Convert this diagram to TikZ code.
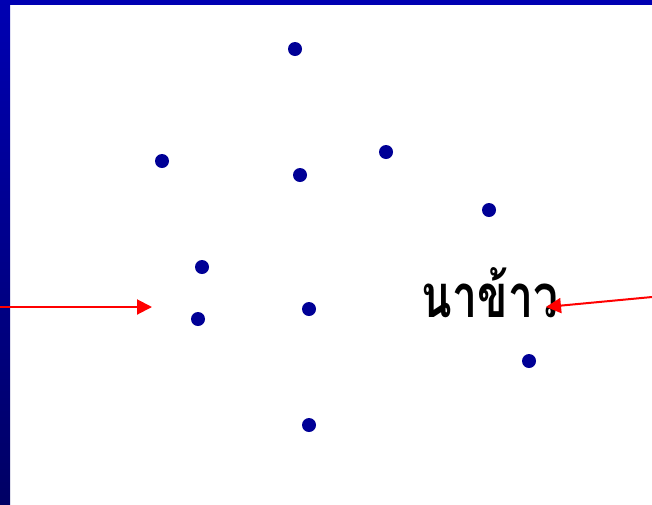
\documentclass[tikz,border=0pt]{standalone}
\usepackage{fontspec}
\newfontfamily\thaifont[Script=Thai]{Loma}
\usetikzlibrary{arrows.meta}
\definecolor{dotblue}{RGB}{0,0,150}
\definecolor{bartop}{RGB}{0,0,178}
\definecolor{barbot}{RGB}{0,0,100}
\tikzset{
  dot/.style={circle,fill=dotblue,inner sep=0pt,minimum size=14pt},
  redarrow/.style={draw=red,line width=2pt,-{Triangle[length=15pt,width=15pt]}},
  label/.style={font=\thaifont\bfseries\fontsize{46}{52}\selectfont,inner sep=0pt}
}
\begin{document}
\begin{tikzpicture}[x=1pt,y=-1pt]
\useasboundingbox (0,0) rectangle (652,504);
\fill[white] (0,0) rectangle (652,504);
\fill[bartop] (0,0) rectangle (652,5);
\shade[top color=bartop,bottom color=barbot] (0,0) rectangle (10,504);
\node[dot] (d1) at (295,49) {};
\node[dot] (d2) at (162,161) {};
\node[dot] (d3) at (386,152) {};
\node[dot] (d4) at (300,175) {};
\node[dot] (d5) at (489,210) {};
\node[dot] (d6) at (202,267) {};
\node[dot] (d7) at (198,319) {};
\node[dot] (d8) at (309,309) {};
\node[dot] (d9) at (529,361) {};
\node[dot] (d10) at (309,425) {};
\node[label] (t) at (490,293) {\scalebox{0.97}[1.3]{นาข้าว}};
\coordinate (ls) at (0,307);
\coordinate (le) at (152,307);
\coordinate (rs) at (652,297);
\coordinate (re) at (546,307);
\draw[redarrow] (ls) -- (le);
\draw[redarrow] (rs) -- (re);
\end{tikzpicture}
\end{document}
